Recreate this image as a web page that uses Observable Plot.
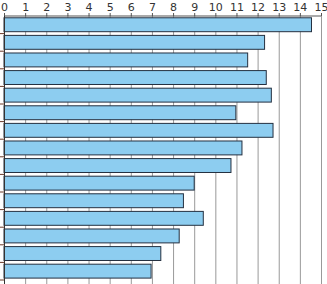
<!DOCTYPE html>
<html>
<head>
<meta charset="utf-8">
<script src="https://cdn.jsdelivr.net/npm/d3@7"></script>
<script src="https://cdn.jsdelivr.net/npm/@observablehq/plot@0.6"></script>
<style>
  html, body { margin: 0; padding: 0; background: #fff; }
  svg { display: block; }
</style>
</head>
<body>
<div id="chart"></div>
<script>
const categories = ["1","2","3","4","5","6","7","8","9","10","11","12","13","14","15"];
const values = [14.55, 12.33, 11.53, 12.41, 12.65, 10.97, 12.73, 11.26, 10.74, 9.0, 8.49, 9.43, 8.29, 7.42, 6.96];
const xTicks = [0,1,2,3,4,5,6,7,8,9,10,11,12,13,14,15];

const data = categories.map((c, i) => ({cat: c, idx: i, value: values[i]}));
const boundaries = d3.range(1, categories.length + 1);

const chart = Plot.plot({
  width: 327,
  height: 284,
  marginTop: 15,
  marginLeft: 4,
  marginRight: 6,
  marginBottom: 5,
  style: {fontFamily: "DejaVu Sans, sans-serif", fontSize: "11px", color: "#333", background: "#fff"},
  x: {type: "linear", domain: [0, 15], axis: null},
  y: {type: "linear", domain: [0, categories.length], range: [15.5, 279.5], axis: null},
  marks: [
    Plot.ruleX(xTicks, {x: d => d, y1: 0, y2: 15.3, stroke: "#999", strokeWidth: 1}),
    Plot.rectX(data, {x1: 0, x2: "value", y1: d => d.idx + 0.13, y2: d => d.idx + 0.92, fill: "#8dcdf0", stroke: "#243040", strokeWidth: 1}),
    Plot.ruleY([0], {x1: 0, x2: 15, stroke: "#555"}),
    Plot.ruleX([0], {y1: 0, y2: 15.3, stroke: "#333"}),
    Plot.axisX({anchor: "top", ticks: xTicks, tickSize: 3, tickPadding: 2, tickFormat: d3.format("d"), label: null, fontSize: 11, fill: "#333", stroke: "#555"}),
    Plot.axisY({anchor: "left", ticks: boundaries, tickSize: 4, tickFormat: () => "", label: null, stroke: "#6b3a2a"})
  ]
});
document.getElementById("chart").append(chart);
</script>
</body>
</html>
